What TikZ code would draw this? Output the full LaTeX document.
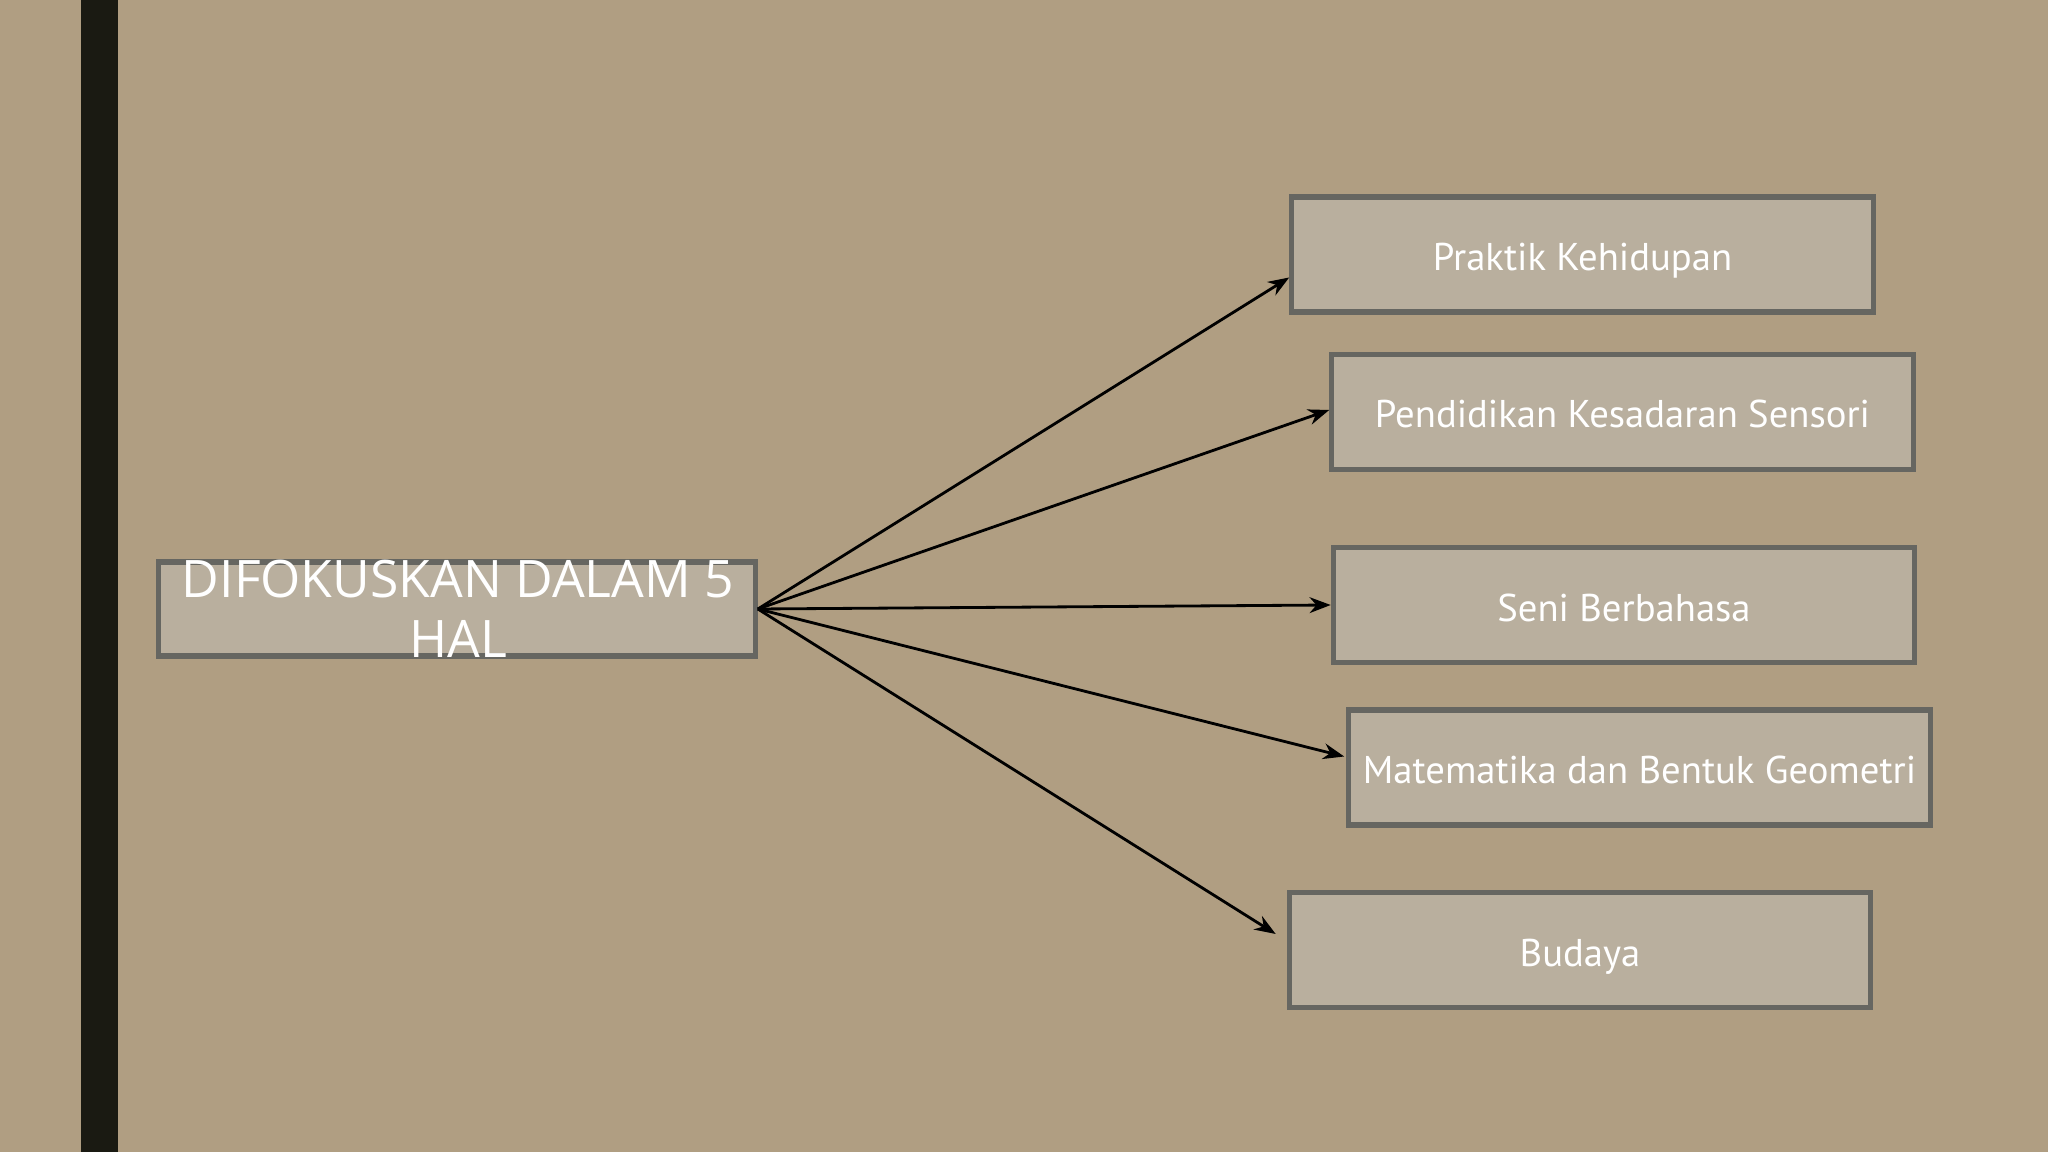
\documentclass[tikz,border=0pt]{standalone}
\usepackage{fontspec}
\setmainfont{Open Sans}
\newfontfamily\kotakfont{PT Sans}
\usetikzlibrary{arrows.meta}
\usetikzlibrary{calc}
\definecolor{latar}{RGB}{176,158,130}
\definecolor{isian}{RGB}{185,175,158}
\definecolor{garis}{RGB}{102,102,97}
\definecolor{batang}{RGB}{26,26,18}

\tikzset{
  kotak/.style={draw=garis, line width=1.5pt, fill=isian, text=white,
    minimum width=5.81cm, minimum height=1.15cm, inner sep=0pt,
    text height=9.1pt, text depth=0pt,
    font=\kotakfont\fontsize{11}{13}\selectfont},
  panah/.style={-{Stealth[length=6pt,width=4.5pt]}, line width=0.8pt, black}
}

\begin{document}
\begin{tikzpicture}[x=0.01cm, y=-0.01cm]
\fill[latar] (0,0) rectangle (2048,1152);
\useasboundingbox (0,0) rectangle (2048,1152);
\fill[batang] (81,0) rectangle (118,1152);

% pokok
\node[draw=garis, line width=1.5pt, fill=isian, minimum width=5.96cm, minimum height=0.94cm, inner sep=0pt] (kotakpokok) at (457,609) {};
\node[text=white, align=center, font=\fontsize{14.7}{17}\selectfont] (pokok) at (458,609) {DIFOKUSKAN DALAM 5\\HAL};

% lima hal
\node[kotak] (praktik) at (1582.5,254.5) {Praktik Kehidupan};
\node[kotak] (sensori) at (1622.5,412) {Pendidikan Kesadaran Sensori};
\node[kotak] (bahasa) at (1624,605) {Seni Berbahasa};
\node[kotak] (mate) at (1639.5,767.5) {Matematika dan Bentuk Geometri};
\node[kotak] (budaya) at (1580,950) {Budaya};

\draw[panah] (kotakpokok.east) -- ($(praktik.west)+(0,23)$);
\draw[panah] (kotakpokok.east) -- ($(sensori.west)+(0,-2)$);
\draw[panah] (kotakpokok.east) -- (bahasa.west);
\draw[panah] (kotakpokok.east) -- ($(mate.west)+(-2,-11)$);
\draw[panah] (kotakpokok.east) -- ($(budaya.west)+(-11,-16)$);
\end{tikzpicture}
\end{document}
